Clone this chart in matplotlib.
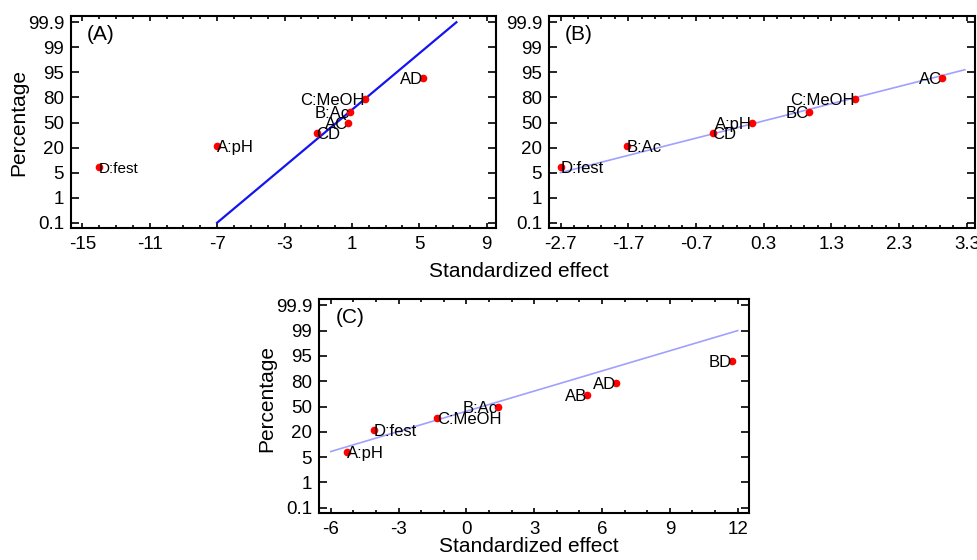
import numpy as np
import matplotlib
matplotlib.use("Agg")
import matplotlib.pyplot as plt
from matplotlib.ticker import MultipleLocator, FixedLocator
from statistics import NormalDist

plt.rcParams["font.family"] = ["Liberation Sans", "DejaVu Sans"]
plt.rcParams["axes.unicode_minus"] = False

# normal probability tick labels (percent)
prob_ticks = [0.1, 1, 5, 20, 50, 80, 95, 99, 99.9]
prob_labels = ["0.1", "1", "5", "20", "50", "80", "95", "99", "99.9"]

# plotting positions of the 7 ranked effects (percent)
ranks = [7.1, 21.4, 35.7, 50.0, 64.3, 78.6, 92.9]

# panel A
effects_a = [-14.0, -7.0, -1.1, 0.75, 0.9, 1.75, 5.2]
names_a = ["D:fest", "A:pH", "CD", "AC", "B:Ac", "C:MeOH", "AD"]
fit_a_x = [-7.0, 7.2]
fit_a_y = [0.1, 99.9]
xticks_a = [-15, -11, -7, -3, 1, 5, 9]

# panel B
effects_b = [-2.7, -1.72, -0.455, 0.12, 0.97, 1.65, 2.93]
names_b = ["D:fest", "B:Ac", "CD", "A:pH", "BC", "C:MeOH", "AC"]
fit_b_x = [-2.7, 3.27]
fit_b_y = [5.0, 95.7]
xticks_b = [-2.7, -1.7, -0.7, 0.3, 1.3, 2.3, 3.3]

# panel C
effects_c = [-5.3, -4.1, -1.28, 1.4, 5.34, 6.6, 11.73]
names_c = ["A:pH", "D:fest", "C:MeOH", "B:Ac", "AB", "AD", "BD"]
fit_c_x = [-6.0, 12.0]
fit_c_y = [7.1, 99.0]
xticks_c = [-6, -3, 0, 3, 6, 9, 12]

# label side for each point (text left or right of the marker)
side_a = ["left", "left", "left", "right", "right", "right", "right"]
side_b = ["left", "left", "left", "right", "right", "right", "right"]
side_c = ["left", "left", "left", "right", "right", "right", "right"]
size_a = [11, 12, 12, 12, 12, 12, 12]
size_b = [12] * 7
size_c = [12] * 7

# ---- probability scale: tick labels equally spaced, probit in between ----
nd = NormalDist()
_inv = np.vectorize(nd.inv_cdf, otypes=[float])
_cdf = np.vectorize(nd.cdf, otypes=[float])
tick_z = _inv(np.array(prob_ticks) / 100.0)
tick_i = np.arange(len(prob_ticks), dtype=float)


def interp_ext(x, xp, fp):
    x = np.asarray(x, dtype=float)
    y = np.interp(x, xp, fp)
    lo = x < xp[0]
    hi = x > xp[-1]
    y = np.where(lo, fp[0] + (x - xp[0]) * (fp[1] - fp[0]) / (xp[1] - xp[0]), y)
    y = np.where(hi, fp[-1] + (x - xp[-1]) * (fp[-1] - fp[-2]) / (xp[-1] - xp[-2]), y)
    return y


def forward(p):
    p = np.clip(np.asarray(p, dtype=float) / 100.0, 1e-9, 1 - 1e-9)
    return interp_ext(_inv(p), tick_z, tick_i)


def inverse(i):
    return _cdf(interp_ext(i, tick_i, tick_z)) * 100.0


fig = plt.figure(figsize=(9.78, 5.6), dpi=100)
ax_a = fig.add_axes([71 / 978, 1 - 228 / 560, 425 / 978, 212 / 560])
ax_b = fig.add_axes([549 / 978, 1 - 228 / 560, 426 / 978, 212 / 560])
ax_c = fig.add_axes([319 / 978, 1 - 513 / 560, 430 / 978, 214 / 560])

panels = [
    (ax_a, effects_a, names_a, side_a, size_a, fit_a_x, fit_a_y, "(A)",
     (-15.67, 9.55), xticks_a, 1, 0, "#1414f0", 1.6),
    (ax_b, effects_b, names_b, side_b, size_b, fit_b_x, fit_b_y, "(B)",
     (-2.87, 3.42), xticks_b, 0.2, 0.1, "#a0a0ff", 1.2),
    (ax_c, effects_c, names_c, side_c, size_c, fit_c_x, fit_c_y, "(C)",
     (-6.52, 12.5), xticks_c, 1, 0, "#a0a0ff", 1.2),
]

ylo = float(inverse(-0.21))
yhi = float(inverse(8.25))

for ax, xs, names, sides, sizes, fx, fy, tag, xlim, xt, minor, moff, lc, lw in panels:
    ax.set_yscale("function", functions=(forward, inverse))
    ax.plot(fx, fy, color=lc, lw=lw, zorder=2)
    ax.plot(xs, ranks, "o", color="red", ms=4.5, zorder=3)
    for x, y, name, side, fs in zip(xs, ranks, names, sides, sizes):
        ax.text(x, y, name, ha=side, va="center_baseline", fontsize=fs, zorder=4)
    ax.set_yticks(prob_ticks)
    ax.set_yticklabels(prob_labels)
    ax.set_ylim(ylo, yhi)
    ax.set_xlim(*xlim)
    ax.xaxis.set_major_locator(FixedLocator(xt))
    ax.set_xticklabels([f"{v:g}" for v in xt])
    ax.xaxis.set_minor_locator(MultipleLocator(minor, offset=moff))
    ax.yaxis.set_minor_locator(plt.NullLocator())
    ax.tick_params(axis="both", which="both", direction="in", top=True, right=True,
                   width=1.2, labelsize=13.5)
    ax.tick_params(axis="x", which="major", length=3.5, pad=6)
    ax.tick_params(axis="x", which="minor", length=2.5)
    ax.tick_params(axis="y", which="major", length=5.5, pad=5)
    for s in ax.spines.values():
        s.set_linewidth(1.5)
    ax.text(0.038, 0.915, tag, transform=ax.transAxes, fontsize=15, ha="left", va="center")

fig.text(18.5 / 978, 1 - 122 / 560, "Percentage", fontsize=15, rotation=90,
         ha="center", va="center")
fig.text(266.5 / 978, 1 - 399 / 560, "Percentage", fontsize=15, rotation=90,
         ha="center", va="center")
fig.text(519 / 978, 1 - 271 / 560, "Standardized effect", fontsize=15,
         ha="center", va="center")
fig.text(529 / 978, 1 - 547 / 560, "Standardized effect", fontsize=15,
         ha="center", va="center")

fig.savefig("out.png", dpi=100)
